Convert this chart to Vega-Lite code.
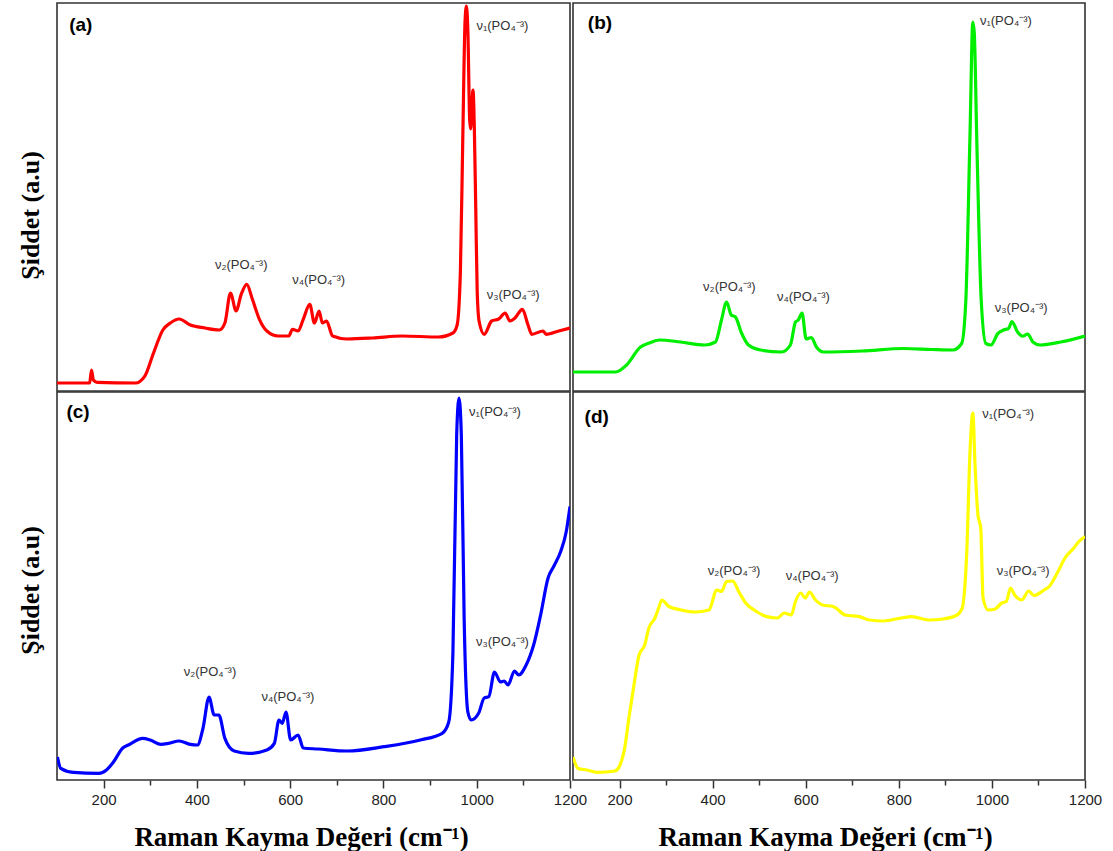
{
  "$schema": "https://vega.github.io/schema/vega-lite/v6.json",
  "background": "white",
  "padding": {"left": 16, "top": 2, "right": 10, "bottom": 0},
  "columns": 2,
  "bounds": "flush",
  "spacing": {"row": 1, "column": 3},
  "datasets": {
    "a": [
      {"shift":100,"intensity":8},{"shift":170,"intensity":8},{"shift":174,"intensity":21},{"shift":178,"intensity":11},{"shift":186,"intensity":8.7},{"shift":268,"intensity":8},{"shift":288,"intensity":14.7},{"shift":307,"intensity":38},{"shift":327,"intensity":61},{"shift":343,"intensity":68},{"shift":362,"intensity":72},{"shift":386,"intensity":66},{"shift":417,"intensity":63},{"shift":448,"intensity":61},{"shift":460,"intensity":68},{"shift":472,"intensity":98},{"shift":484,"intensity":80},{"shift":495,"intensity":96.7},{"shift":507,"intensity":106.7},{"shift":519,"intensity":91.7},{"shift":534,"intensity":71.7},{"shift":550,"intensity":60},{"shift":574,"intensity":55},{"shift":597,"intensity":55},{"shift":605,"intensity":61.7},{"shift":617,"intensity":60},{"shift":628,"intensity":71.7},{"shift":642,"intensity":86.7},{"shift":652,"intensity":68},{"shift":662,"intensity":80},{"shift":669,"intensity":68},{"shift":678,"intensity":70},{"shift":691,"intensity":55},{"shift":722,"intensity":52},{"shift":777,"intensity":53},{"shift":840,"intensity":55},{"shift":918,"intensity":54},{"shift":949,"intensity":58},{"shift":958,"intensity":66},{"shift":965,"intensity":120},{"shift":970,"intensity":250},{"shift":975,"intensity":370},{"shift":978,"intensity":385},{"shift":981,"intensity":360},{"shift":985,"intensity":270},{"shift":987,"intensity":262},{"shift":990,"intensity":290},{"shift":992,"intensity":301},{"shift":995,"intensity":260},{"shift":998,"intensity":180},{"shift":1001,"intensity":100},{"shift":1005,"intensity":70},{"shift":1016,"intensity":56.7},{"shift":1032,"intensity":70},{"shift":1047,"intensity":72},{"shift":1061,"intensity":78},{"shift":1071,"intensity":70},{"shift":1082,"intensity":73},{"shift":1098,"intensity":81.7},{"shift":1110,"intensity":66},{"shift":1118,"intensity":56.7},{"shift":1142,"intensity":60},{"shift":1149,"intensity":56.7},{"shift":1176,"intensity":60},{"shift":1200,"intensity":63}
    ],
    "b": [
      {"shift":100,"intensity":19},{"shift":192,"intensity":19},{"shift":215,"intensity":26},{"shift":245,"intensity":44},{"shift":264,"intensity":48},{"shift":286,"intensity":51},{"shift":331,"intensity":49},{"shift":383,"intensity":46},{"shift":406,"intensity":49},{"shift":419,"intensity":71},{"shift":430,"intensity":89},{"shift":440,"intensity":76},{"shift":449,"intensity":74},{"shift":462,"intensity":58},{"shift":477,"intensity":46},{"shift":503,"intensity":41},{"shift":548,"intensity":39},{"shift":567,"intensity":46},{"shift":578,"intensity":69},{"shift":584,"intensity":71},{"shift":592,"intensity":78},{"shift":601,"intensity":52},{"shift":612,"intensity":53.5},{"shift":623,"intensity":44},{"shift":638,"intensity":39},{"shift":721,"intensity":40},{"shift":811,"intensity":42.5},{"shift":871,"intensity":41.5},{"shift":916,"intensity":41},{"shift":935,"intensity":47.5},{"shift":944,"intensity":91},{"shift":953,"intensity":258},{"shift":959,"intensity":369},{"shift":962,"intensity":359},{"shift":968,"intensity":241},{"shift":977,"intensity":91},{"shift":987,"intensity":47.5},{"shift":998,"intensity":46},{"shift":1013,"intensity":57.6},{"shift":1025,"intensity":61},{"shift":1036,"intensity":62.6},{"shift":1043,"intensity":69.3},{"shift":1055,"intensity":59},{"shift":1066,"intensity":54.8},{"shift":1077,"intensity":57},{"shift":1088,"intensity":49},{"shift":1103,"intensity":46},{"shift":1148,"intensity":49},{"shift":1200,"intensity":55}
    ],
    "c": [
      {"shift":101,"intensity":23},{"shift":108,"intensity":11.6},{"shift":135,"intensity":7.6},{"shift":190,"intensity":6.6},{"shift":206,"intensity":10},{"shift":221,"intensity":18},{"shift":241,"intensity":32},{"shift":253,"intensity":35},{"shift":284,"intensity":41.6},{"shift":300,"intensity":40},{"shift":323,"intensity":35.6},{"shift":339,"intensity":36.6},{"shift":362,"intensity":39},{"shift":386,"intensity":35.6},{"shift":401,"intensity":35},{"shift":413,"intensity":51.7},{"shift":426,"intensity":83},{"shift":437,"intensity":65},{"shift":447,"intensity":65},{"shift":460,"intensity":41.6},{"shift":480,"intensity":29},{"shift":511,"intensity":26.6},{"shift":550,"intensity":30},{"shift":566,"intensity":36.6},{"shift":576,"intensity":60},{"shift":583,"intensity":56.7},{"shift":591,"intensity":68},{"shift":601,"intensity":40},{"shift":617,"intensity":45},{"shift":628,"intensity":32},{"shift":660,"intensity":31},{"shift":722,"intensity":29},{"shift":801,"intensity":33.3},{"shift":879,"intensity":40},{"shift":926,"intensity":46.7},{"shift":940,"intensity":58},{"shift":949,"intensity":128},{"shift":957,"intensity":345},{"shift":962,"intensity":382},{"shift":967,"intensity":345},{"shift":973,"intensity":162},{"shift":981,"intensity":68},{"shift":988,"intensity":60},{"shift":1004,"intensity":66.7},{"shift":1016,"intensity":82},{"shift":1026,"intensity":83.4},{"shift":1038,"intensity":108},{"shift":1051,"intensity":98},{"shift":1059,"intensity":99},{"shift":1067,"intensity":95},{"shift":1081,"intensity":109},{"shift":1090,"intensity":105},{"shift":1106,"intensity":115},{"shift":1122,"intensity":135},{"shift":1137,"intensity":165},{"shift":1153,"intensity":202},{"shift":1165,"intensity":213.5},{"shift":1180,"intensity":228.5},{"shift":1192,"intensity":248.5},{"shift":1200,"intensity":273.6}
    ],
    "d": [
      {"shift":100,"intensity":23},{"shift":111,"intensity":11.6},{"shift":130,"intensity":10},{"shift":152,"intensity":7.6},{"shift":190,"intensity":9},{"shift":201,"intensity":15},{"shift":211,"intensity":31.6},{"shift":220,"intensity":61.7},{"shift":231,"intensity":95},{"shift":242,"intensity":125},{"shift":254,"intensity":135},{"shift":263,"intensity":152},{"shift":276,"intensity":162},{"shift":284,"intensity":172},{"shift":291,"intensity":180},{"shift":306,"intensity":173.5},{"shift":332,"intensity":170},{"shift":362,"intensity":168},{"shift":392,"intensity":170},{"shift":409,"intensity":190},{"shift":419,"intensity":188.5},{"shift":430,"intensity":198.5},{"shift":443,"intensity":199},{"shift":456,"intensity":188.5},{"shift":471,"intensity":177},{"shift":494,"intensity":168.5},{"shift":516,"intensity":163.4},{"shift":539,"intensity":162},{"shift":554,"intensity":167},{"shift":569,"intensity":165},{"shift":578,"intensity":178.5},{"shift":589,"intensity":187},{"shift":599,"intensity":182},{"shift":608,"intensity":188},{"shift":621,"intensity":180},{"shift":636,"intensity":175},{"shift":659,"intensity":173.5},{"shift":685,"intensity":165},{"shift":715,"intensity":163.4},{"shift":737,"intensity":160},{"shift":767,"intensity":159},{"shift":805,"intensity":162},{"shift":827,"intensity":163.4},{"shift":865,"intensity":160},{"shift":895,"intensity":161},{"shift":925,"intensity":165},{"shift":936,"intensity":171.6},{"shift":946,"intensity":228.5},{"shift":953,"intensity":328.6},{"shift":959,"intensity":367},{"shift":964,"intensity":312},{"shift":970,"intensity":265},{"shift":976,"intensity":252},{"shift":981,"intensity":182},{"shift":992,"intensity":170},{"shift":1007,"intensity":171},{"shift":1021,"intensity":177},{"shift":1031,"intensity":178.5},{"shift":1040,"intensity":192},{"shift":1049,"intensity":185},{"shift":1064,"intensity":180},{"shift":1079,"intensity":189},{"shift":1090,"intensity":184.5},{"shift":1112,"intensity":190},{"shift":1123,"intensity":193.5},{"shift":1142,"intensity":208.5},{"shift":1157,"intensity":222},{"shift":1176,"intensity":232},{"shift":1187,"intensity":238.5},{"shift":1200,"intensity":243.5}
    ],
    "la": [
      {"shift":1055,"intensity":365,"label":"ν₁(PO₄⁻³)"},
      {"shift":495,"intensity":126,"label":"ν₂(PO₄⁻³)"},
      {"shift":661,"intensity":111,"label":"ν₄(PO₄⁻³)"},
      {"shift":1078,"intensity":96,"label":"ν₃(PO₄⁻³)"},
      {"shift":151,"intensity":366,"label":"(a)","kind":"panel"}
    ],
    "lb": [
      {"shift":1030,"intensity":370,"label":"ν₁(PO₄⁻³)"},
      {"shift":436,"intensity":104,"label":"ν₂(PO₄⁻³)"},
      {"shift":595,"intensity":94,"label":"ν₄(PO₄⁻³)"},
      {"shift":1063,"intensity":83,"label":"ν₃(PO₄⁻³)"},
      {"shift":158,"intensity":368,"label":"(b)","kind":"panel"}
    ],
    "lc": [
      {"shift":1039,"intensity":368,"label":"ν₁(PO₄⁻³)"},
      {"shift":428,"intensity":108,"label":"ν₂(PO₄⁻³)"},
      {"shift":595,"intensity":83,"label":"ν₄(PO₄⁻³)"},
      {"shift":1055,"intensity":138,"label":"ν₃(PO₄⁻³)"},
      {"shift":145,"intensity":368,"label":"(c)","kind":"panel"}
    ],
    "ld": [
      {"shift":1035,"intensity":366,"label":"ν₁(PO₄⁻³)"},
      {"shift":446,"intensity":209,"label":"ν₂(PO₄⁻³)"},
      {"shift":614,"intensity":204,"label":"ν₄(PO₄⁻³)"},
      {"shift":1067,"intensity":209,"label":"ν₃(PO₄⁻³)"},
      {"shift":151,"intensity":363,"label":"(d)","kind":"panel"}
    ]
  },
  "concat": [
    {
      "width": 513, "height": 388,
      "encoding": {
        "x": {"field": "shift", "type": "quantitative", "scale": {"domain": [100, 1200], "nice": false, "zero": false}, "axis": null},
        "y": {"field": "intensity", "type": "quantitative", "scale": {"domain": [0, 388], "nice": false},
              "axis": {"title": "Şiddet (a.u)", "labels": false, "ticks": false, "domain": false, "grid": false,
                       "titleFont": "Liberation Serif", "titleFontSize": 26, "titleFontWeight": "bold", "titleColor": "#000",
                       "titleX": -27, "titleY": 212, "titleAlign": "center", "titleBaseline": "middle", "titleAngle": -90}}
      },
      "layer": [
        {"data": {"name": "a"}, "mark": {"type": "line", "color": "#ff0000", "strokeWidth": 3.2, "interpolate": "monotone", "clip": true}, "encoding": {}},
        {"data": {"name": "la"}, "transform": [{"filter": "datum.kind !== 'panel'"}], "mark": {"type": "text", "font": "Liberation Sans", "fontSize": 13, "color": "#333", "align": "center", "baseline": "middle"}, "encoding": {"text": {"field": "label"}}},
        {"data": {"name": "la"}, "transform": [{"filter": "datum.kind === 'panel'"}], "mark": {"type": "text", "font": "Liberation Sans", "fontSize": 19, "fontWeight": "bold", "color": "#000", "align": "center", "baseline": "middle"}, "encoding": {"text": {"field": "label"}}}
      ]
    },
    {
      "width": 512, "height": 388,
      "encoding": {
        "x": {"field": "shift", "type": "quantitative", "scale": {"domain": [100, 1200], "nice": false, "zero": false}, "axis": null},
        "y": {"field": "intensity", "type": "quantitative", "scale": {"domain": [0, 388], "nice": false}, "axis": null}
      },
      "layer": [
        {"data": {"name": "b"}, "mark": {"type": "line", "color": "#00ee00", "strokeWidth": 3.2, "interpolate": "monotone", "clip": true}, "encoding": {}},
        {"data": {"name": "lb"}, "transform": [{"filter": "datum.kind !== 'panel'"}], "mark": {"type": "text", "font": "Liberation Sans", "fontSize": 13, "color": "#333", "align": "center", "baseline": "middle"}, "encoding": {"text": {"field": "label"}}},
        {"data": {"name": "lb"}, "transform": [{"filter": "datum.kind === 'panel'"}], "mark": {"type": "text", "font": "Liberation Sans", "fontSize": 19, "fontWeight": "bold", "color": "#000", "align": "center", "baseline": "middle"}, "encoding": {"text": {"field": "label"}}}
      ]
    },
    {
      "width": 513, "height": 388,
      "encoding": {
        "x": {"field": "shift", "type": "quantitative", "scale": {"domain": [100, 1200], "nice": false, "zero": false},
              "axis": {"title": "Raman Kayma Değeri (cm⁻¹)", "values": [200,300,400,500,600,700,800,900,1000,1100,1200], "format": "d",
                       "labelExpr": "datum.value % 200 === 0 ? datum.label : ''", "labelFlush": false, "labelOverlap": false, "labelBound": false,
                       "labelFont": "Liberation Sans", "labelFontSize": 15, "labelColor": "#222", "labelPadding": 4,
                       "tickSize": {"condition": {"test": "datum.value % 200 === 0", "value": 8}, "value": 5}, "tickColor": "#333", "tickWidth": 1.5,
                       "domain": false, "grid": false,
                       "titleFont": "Liberation Serif", "titleFontSize": 27, "titleFontWeight": "bold", "titleColor": "#000",
                       "titleX": 244, "titleY": 65, "titleAlign": "center", "titleBaseline": "alphabetic"}},
        "y": {"field": "intensity", "type": "quantitative", "scale": {"domain": [0, 388], "nice": false},
              "axis": {"title": "Şiddet (a.u)", "labels": false, "ticks": false, "domain": false, "grid": false,
                       "titleFont": "Liberation Serif", "titleFontSize": 26, "titleFontWeight": "bold", "titleColor": "#000",
                       "titleX": -27, "titleY": 198, "titleAlign": "center", "titleBaseline": "middle", "titleAngle": -90}}
      },
      "layer": [
        {"data": {"name": "c"}, "mark": {"type": "line", "color": "#0000ff", "strokeWidth": 3.2, "interpolate": "monotone", "clip": true}, "encoding": {}},
        {"data": {"name": "lc"}, "transform": [{"filter": "datum.kind !== 'panel'"}], "mark": {"type": "text", "font": "Liberation Sans", "fontSize": 13, "color": "#333", "align": "center", "baseline": "middle"}, "encoding": {"text": {"field": "label"}}},
        {"data": {"name": "lc"}, "transform": [{"filter": "datum.kind === 'panel'"}], "mark": {"type": "text", "font": "Liberation Sans", "fontSize": 19, "fontWeight": "bold", "color": "#000", "align": "center", "baseline": "middle"}, "encoding": {"text": {"field": "label"}}}
      ]
    },
    {
      "width": 512, "height": 388,
      "encoding": {
        "x": {"field": "shift", "type": "quantitative", "scale": {"domain": [100, 1200], "nice": false, "zero": false},
              "axis": {"title": "Raman Kayma Değeri (cm⁻¹)", "values": [200,300,400,500,600,700,800,900,1000,1100,1200], "format": "d",
                       "labelExpr": "datum.value % 200 === 0 ? datum.label : ''", "labelFlush": false, "labelOverlap": false, "labelBound": false,
                       "labelFont": "Liberation Sans", "labelFontSize": 15, "labelColor": "#222", "labelPadding": 4,
                       "tickSize": {"condition": {"test": "datum.value % 200 === 0", "value": 8}, "value": 5}, "tickColor": "#333", "tickWidth": 1.5,
                       "domain": false, "grid": false,
                       "titleFont": "Liberation Serif", "titleFontSize": 27, "titleFontWeight": "bold", "titleColor": "#000",
                       "titleX": 252, "titleY": 65, "titleAlign": "center", "titleBaseline": "alphabetic"}},
        "y": {"field": "intensity", "type": "quantitative", "scale": {"domain": [0, 388], "nice": false}, "axis": null}
      },
      "layer": [
        {"data": {"name": "d"}, "mark": {"type": "line", "color": "#ffff00", "strokeWidth": 3.2, "interpolate": "monotone", "clip": true}, "encoding": {}},
        {"data": {"name": "ld"}, "transform": [{"filter": "datum.kind !== 'panel'"}], "mark": {"type": "text", "font": "Liberation Sans", "fontSize": 13, "color": "#333", "align": "center", "baseline": "middle"}, "encoding": {"text": {"field": "label"}}},
        {"data": {"name": "ld"}, "transform": [{"filter": "datum.kind === 'panel'"}], "mark": {"type": "text", "font": "Liberation Sans", "fontSize": 19, "fontWeight": "bold", "color": "#000", "align": "center", "baseline": "middle"}, "encoding": {"text": {"field": "label"}}}
      ]
    }
  ],
  "config": {
    "view": {"stroke": "#333", "strokeWidth": 1.6},
    "axis": {"grid": false}
  }
}
